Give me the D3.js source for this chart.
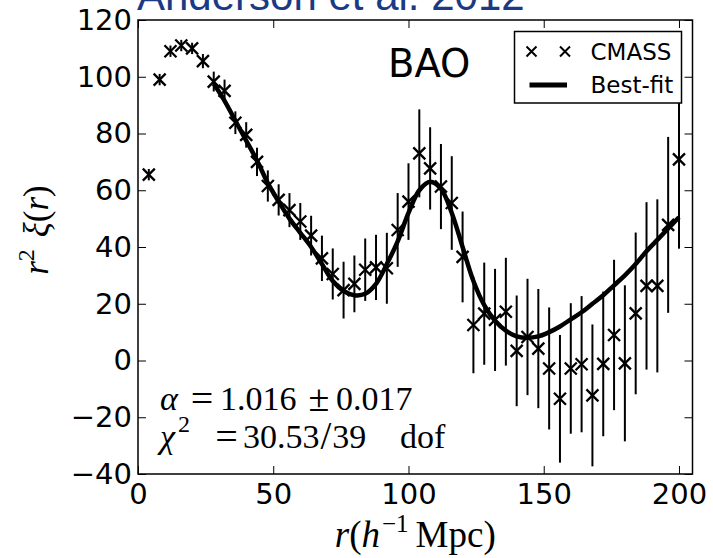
<!DOCTYPE html>
<html>
<head>
<meta charset="utf-8">
<script src="https://cdn.jsdelivr.net/npm/d3@7"></script>
<style>
  body { margin: 0; background: #fff; }
  svg { display: block; }
  .tick text { font-family: "DejaVu Sans", sans-serif; font-size: 29px; fill: #000; }
  .tick line { stroke: #000; stroke-width: 1; }
  .math { font-family: "Liberation Serif", serif; fill: #000; }
</style>
</head>
<body>
<script>
// separation r (h^-1 Mpc), measured r^2 xi(r) and its error
const rVals = [4, 8, 12, 16, 20, 24, 28, 32, 36, 40, 44, 48, 52, 56, 60, 64, 68, 72, 76, 80,
  84, 88, 92, 96, 100, 104, 108, 112, 116, 120, 124, 128, 132, 136, 140, 144, 148, 152, 156, 160,
  164, 168, 172, 176, 180, 184, 188, 192, 196, 200];
const xiVals = [65.5, 99, 109, 111, 110, 105.5, 98.3, 95, 83.8, 79.5, 70, 61.5, 56.6, 53, 49, 44, 36, 30.5, 24.8, 27,
  32, 32.8, 32.5, 46, 56, 73, 67.7, 61.3, 55.5, 36.5, 12.5, 16.5, 14.3, 17.2, 3.4, 8.3, 4.2, -2.8, -13.5, -2.8,
  -1.3, -12.3, -1.2, 9, -1, 16.6, 26.3, 26.3, 47.8, 70.9];
const xiErr = [2, 2, 2, 2, 2, 2.5, 3.5, 4, 4, 4.5, 5, 5.5, 5.5, 6, 6.5, 7, 8, 9, 10, 10,
  11, 11.5, 12.5, 13, 13.5, 15.5, 14.5, 15, 16.5, 16, 17, 18, 18, 19, 19.5, 20.5, 21, 21.5, 22.5, 23,
  24, 25, 25.5, 26.5, 27.5, 28.5, 29.5, 30.5, 31, 31.5];

// best-fit model curve
const fitR = [28, 32, 36, 40, 44, 48, 52, 56, 60, 64, 68, 72, 76, 80, 84, 88, 92, 96, 100, 104,
  108, 112, 116, 120, 124, 128, 132, 136, 140, 144, 148, 152, 156, 160, 164, 168, 172, 176, 180, 184,
  188, 192, 196, 200];
const fitXi = [97.5, 91.5, 84.5, 77.5, 70.5, 62.5, 56, 50, 45, 40, 34, 28, 24.5, 23, 23.5, 27, 34, 42, 52, 60,
  63, 60.5, 52, 40, 28, 19.5, 14, 10.5, 8.5, 8, 8.5, 10, 12, 14.5, 17, 20, 23, 26.5, 30, 34,
  38.5, 42.5, 46.5, 50.5];

const xTicks = [0, 50, 100, 150, 200];
const yTicks = [-40, -20, 0, 20, 40, 60, 80, 100, 120];

const width = 713, height = 558;
const margin = {top: 20, right: 20.5, bottom: 84, left: 138};
const w = width - margin.left - margin.right;
const h = height - margin.top - margin.bottom;

const svg = d3.select("body").append("svg")
  .attr("width", width)
  .attr("height", height);

svg.append("text")
  .attr("x", 137)
  .attr("y", 10)
  .style("font-family", "'Liberation Sans', Arial, sans-serif")
  .style("font-size", "42px")
  .style("fill", "#1a3a86")
  .text("Anderson et al. 2012");

const g = svg.append("g")
  .attr("transform", `translate(${margin.left},${margin.top})`);

const x = d3.scaleLinear().domain([0, 205]).range([0, w]);
const y = d3.scaleLinear().domain([-40, 120]).range([h, 0]);

// axes with inward ticks on all four sides
g.append("g").attr("transform", `translate(0,${h})`)
  .call(d3.axisBottom(x).tickValues(xTicks).tickSizeInner(-8).tickSizeOuter(0).tickPadding(9))
  .call(a => a.select(".domain").remove());
g.append("g")
  .call(d3.axisTop(x).tickValues(xTicks).tickSizeInner(-8).tickSizeOuter(0).tickFormat(""))
  .call(a => a.select(".domain").remove());
g.append("g")
  .call(d3.axisLeft(y).tickValues(yTicks).tickSizeInner(-8).tickSizeOuter(0).tickPadding(6))
  .call(a => a.select(".domain").remove());
g.append("g").attr("transform", `translate(${w},0)`)
  .call(d3.axisRight(y).tickValues(yTicks).tickSizeInner(-8).tickSizeOuter(0).tickFormat(""))
  .call(a => a.select(".domain").remove());

// error bars
g.selectAll(".err")
  .data(rVals)
  .enter()
  .append("line")
  .attr("class", "err")
  .attr("x1", d => x(d))
  .attr("x2", d => x(d))
  .attr("y1", (d, i) => y(xiVals[i] - xiErr[i]))
  .attr("y2", (d, i) => y(xiVals[i] + xiErr[i]))
  .style("stroke", "#000")
  .style("stroke-width", 2);

// best-fit line
const line = d3.line()
  .x(d => x(d[0]))
  .y(d => y(d[1]))
  .curve(d3.curveCatmullRom);

g.append("path")
  .datum(fitR.map((r, i) => [r, fitXi[i]]))
  .attr("d", line)
  .style("fill", "none")
  .style("stroke", "#000")
  .style("stroke-width", 4.5);

// x markers
const cross = s => `M${-s},${-s}L${s},${s}M${-s},${s}L${s},${-s}`;
g.selectAll(".pt")
  .data(rVals)
  .enter()
  .append("path")
  .attr("class", "pt")
  .attr("transform", (d, i) => `translate(${x(d)},${y(xiVals[i])})`)
  .attr("d", cross(6))
  .style("stroke", "#000")
  .style("stroke-width", 2.3)
  .style("fill", "none");

// frame
g.append("rect")
  .attr("width", w)
  .attr("height", h)
  .style("fill", "none")
  .style("stroke", "#000")
  .style("stroke-width", 1.5);

// BAO label
g.append("text")
  .attr("x", 250)
  .attr("y", 56.5)
  .style("font-family", "'DejaVu Sans', sans-serif")
  .style("font-size", "38.5px")
  .text("BAO");

// legend
const legend = g.append("g").attr("transform", "translate(376.5,11.5)");
legend.append("rect")
  .attr("width", 167)
  .attr("height", 71.5)
  .style("fill", "#fff")
  .style("stroke", "#000")
  .style("stroke-width", 1.5);
legend.selectAll(".lm")
  .data([0, 1])
  .enter()
  .append("path")
  .attr("class", "lm")
  .attr("transform", d => `translate(${17 + d * 33.5},20)`)
  .attr("d", cross(5))
  .style("stroke", "#000")
  .style("stroke-width", 2);
legend.append("line")
  .attr("x1", 15).attr("x2", 52.5)
  .attr("y1", 53.5).attr("y2", 53.5)
  .style("stroke", "#000")
  .style("stroke-width", 5);
legend.selectAll(".lt")
  .data(["CMASS", "Best-fit"])
  .enter()
  .append("text")
  .attr("x", 76)
  .attr("y", (d, i) => 28.5 + i * 33)
  .style("font-family", "'DejaVu Sans', sans-serif")
  .style("font-size", "23px")
  .text(d => d);

// fit annotations, one piece at a time to mimic TeX spacing
function mathPiece(px, py, txt, opts = {}) {
  return g.append("text").attr("class", "math")
    .attr("x", px).attr("y", py)
    .attr("text-anchor", opts.anchor || "start")
    .style("font-size", (opts.size || 34) + "px")
    .style("font-style", opts.italic ? "italic" : "normal")
    .text(txt);
}
mathPiece(22, 390, "α", {italic: true});
mathPiece(64, 392, "=", {anchor: "middle", size: 40});
mathPiece(82, 390, "1.016");
mathPiece(181, 391, "±", {anchor: "middle", size: 38});
mathPiece(198, 390, "0.017");

const chi = mathPiece(22, 428, "χ", {italic: true});
chi.append("tspan").attr("dx", 3).attr("dy", -16)
  .style("font-size", "24px").style("font-style", "normal").text("2");
mathPiece(88.5, 430, "=", {anchor: "middle", size: 40});
const ratio = mathPiece(105, 428, "30.53");
ratio.append("tspan").attr("dx", 1).attr("dy", 1).style("font-size", "39px").text("/");
ratio.append("tspan").attr("dx", 1).attr("dy", -1).text("39");
mathPiece(262, 428, "dof");

// x axis label
const xl = svg.append("text").attr("class", "math")
  .attr("x", margin.left + w / 2)
  .attr("y", 547)
  .attr("text-anchor", "middle")
  .style("font-size", "37px");
xl.append("tspan").style("font-style", "italic").text("r");
xl.append("tspan").text("(");
xl.append("tspan").style("font-style", "italic").text("h");
xl.append("tspan").attr("dy", -15).attr("dx", 2).style("font-size", "25px").text("−1");
xl.append("tspan").attr("dy", 15).attr("dx", 7).text("Mpc)");

// y axis label
const yl = svg.append("text").attr("class", "math")
  .attr("transform", "translate(48,230) rotate(-90)")
  .attr("text-anchor", "middle")
  .style("font-size", "35px");
yl.append("tspan").style("font-style", "italic").text("r");
yl.append("tspan").attr("dy", -14).style("font-size", "24px").text("2");
yl.append("tspan").attr("dy", 14).attr("dx", 12).style("font-style", "italic").text("ξ");
yl.append("tspan").text("(");
yl.append("tspan").style("font-style", "italic").text("r");
yl.append("tspan").text(")");
</script>
</body>
</html>
